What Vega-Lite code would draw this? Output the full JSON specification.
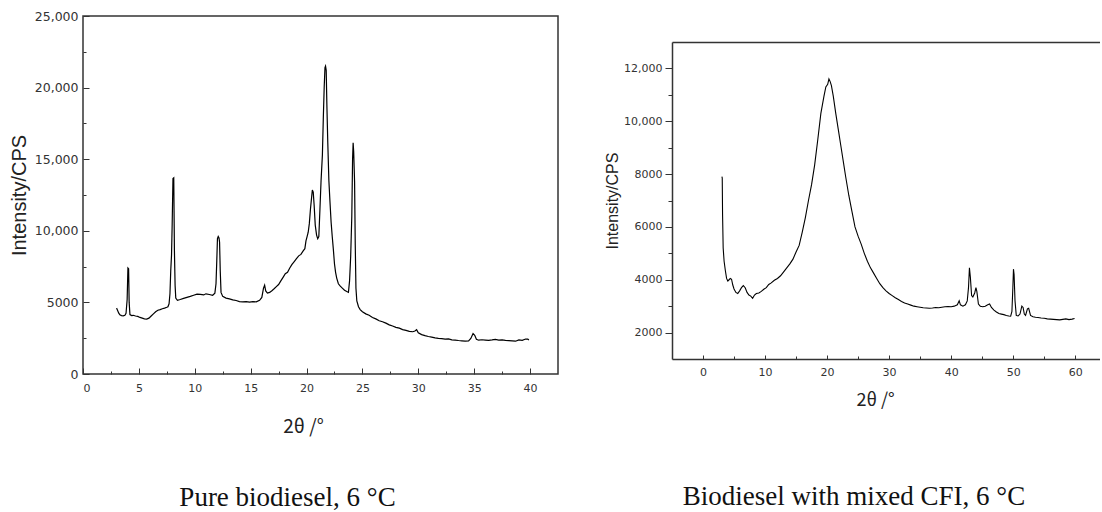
{
  "$schema": "https://vega.github.io/schema/vega-lite/v6.json",
  "padding": {"left": 8, "top": 9, "right": 0, "bottom": 0},
  "background": "white",
  "spacing": 45,
  "config": {
    "view": {"stroke": null},
    "axis": {"grid": false, "labelFont": "DejaVu Sans", "labelColor": "#333", "tickColor": "#333", "domainColor": "#333", "domainWidth": 1.5, "tickWidth": 1, "titleColor": "#222", "titleFontWeight": "normal"}
  },
  "datasets": {
    "pure": [
      {"t":3.0,"i":4600},{"t":3.05,"i":4520},{"t":3.2,"i":4250},{"t":3.3,"i":4130},{"t":3.45,"i":4080},{"t":3.6,"i":4060},{"t":3.75,"i":4100},{"t":3.85,"i":4230},{"t":3.95,"i":5200},{"t":4.02,"i":7400},{"t":4.08,"i":7350},{"t":4.13,"i":5000},{"t":4.2,"i":4150},{"t":4.35,"i":4080},{"t":4.5,"i":4100},{"t":4.7,"i":4050},{"t":4.9,"i":4020},{"t":5.1,"i":3950},{"t":5.3,"i":3900},{"t":5.5,"i":3850},{"t":5.7,"i":3830},{"t":5.9,"i":3900},{"t":6.1,"i":4050},{"t":6.3,"i":4200},{"t":6.5,"i":4350},{"t":6.7,"i":4450},{"t":6.9,"i":4500},{"t":7.1,"i":4560},{"t":7.3,"i":4600},{"t":7.5,"i":4660},{"t":7.6,"i":4700},{"t":7.7,"i":4900},{"t":7.78,"i":5600},{"t":7.85,"i":7200},{"t":7.92,"i":8300},{"t":7.98,"i":10500},{"t":8.05,"i":13650},{"t":8.12,"i":13700},{"t":8.18,"i":8600},{"t":8.24,"i":6200},{"t":8.3,"i":5300},{"t":8.45,"i":5150},{"t":8.7,"i":5200},{"t":9.0,"i":5280},{"t":9.3,"i":5350},{"t":9.6,"i":5420},{"t":9.9,"i":5500},{"t":10.2,"i":5580},{"t":10.5,"i":5560},{"t":10.8,"i":5520},{"t":11.0,"i":5600},{"t":11.3,"i":5550},{"t":11.6,"i":5500},{"t":11.8,"i":5650},{"t":11.9,"i":6300},{"t":11.97,"i":7900},{"t":12.03,"i":9450},{"t":12.1,"i":9600},{"t":12.17,"i":9500},{"t":12.22,"i":9200},{"t":12.28,"i":7200},{"t":12.35,"i":5700},{"t":12.5,"i":5420},{"t":12.8,"i":5300},{"t":13.1,"i":5250},{"t":13.4,"i":5180},{"t":13.7,"i":5130},{"t":14.0,"i":5060},{"t":14.3,"i":5040},{"t":14.6,"i":5060},{"t":14.9,"i":5020},{"t":15.2,"i":5050},{"t":15.5,"i":5040},{"t":15.8,"i":5150},{"t":16.0,"i":5350},{"t":16.15,"i":6000},{"t":16.25,"i":6200},{"t":16.35,"i":5800},{"t":16.5,"i":5650},{"t":16.7,"i":5700},{"t":16.9,"i":5820},{"t":17.1,"i":5950},{"t":17.3,"i":6100},{"t":17.5,"i":6250},{"t":17.7,"i":6500},{"t":17.9,"i":6750},{"t":18.1,"i":7000},{"t":18.3,"i":7100},{"t":18.5,"i":7400},{"t":18.7,"i":7650},{"t":18.9,"i":7850},{"t":19.1,"i":8050},{"t":19.3,"i":8250},{"t":19.5,"i":8350},{"t":19.7,"i":8600},{"t":19.85,"i":8750},{"t":19.95,"i":9300},{"t":20.05,"i":9600},{"t":20.15,"i":9900},{"t":20.25,"i":10500},{"t":20.35,"i":11500},{"t":20.45,"i":12300},{"t":20.52,"i":12850},{"t":20.6,"i":12700},{"t":20.68,"i":11800},{"t":20.78,"i":10400},{"t":20.9,"i":9700},{"t":21.0,"i":9450},{"t":21.1,"i":9600},{"t":21.2,"i":11500},{"t":21.3,"i":13500},{"t":21.42,"i":15300},{"t":21.5,"i":17800},{"t":21.58,"i":20000},{"t":21.65,"i":21400},{"t":21.7,"i":21500},{"t":21.76,"i":21200},{"t":21.82,"i":18800},{"t":21.9,"i":16200},{"t":22.0,"i":13500},{"t":22.1,"i":12000},{"t":22.2,"i":10600},{"t":22.3,"i":9600},{"t":22.4,"i":8700},{"t":22.5,"i":7700},{"t":22.6,"i":7100},{"t":22.7,"i":6700},{"t":22.85,"i":6300},{"t":23.0,"i":6150},{"t":23.2,"i":6000},{"t":23.4,"i":5850},{"t":23.6,"i":5760},{"t":23.75,"i":5700},{"t":23.85,"i":6500},{"t":23.95,"i":8200},{"t":24.05,"i":11000},{"t":24.12,"i":15000},{"t":24.17,"i":16150},{"t":24.22,"i":15500},{"t":24.3,"i":13400},{"t":24.36,"i":9000},{"t":24.42,"i":6000},{"t":24.5,"i":5100},{"t":24.65,"i":4700},{"t":24.8,"i":4500},{"t":25.0,"i":4350},{"t":25.3,"i":4200},{"t":25.6,"i":4100},{"t":25.9,"i":3950},{"t":26.2,"i":3850},{"t":26.5,"i":3720},{"t":26.8,"i":3650},{"t":27.1,"i":3550},{"t":27.4,"i":3430},{"t":27.7,"i":3350},{"t":28.0,"i":3260},{"t":28.3,"i":3200},{"t":28.6,"i":3100},{"t":28.9,"i":3050},{"t":29.2,"i":2980},{"t":29.5,"i":2950},{"t":29.7,"i":3000},{"t":29.85,"i":3100},{"t":30.0,"i":2880},{"t":30.3,"i":2750},{"t":30.6,"i":2680},{"t":30.9,"i":2620},{"t":31.2,"i":2580},{"t":31.5,"i":2520},{"t":31.8,"i":2490},{"t":32.1,"i":2470},{"t":32.4,"i":2430},{"t":32.7,"i":2450},{"t":33.0,"i":2380},{"t":33.3,"i":2370},{"t":33.6,"i":2340},{"t":33.9,"i":2320},{"t":34.2,"i":2300},{"t":34.5,"i":2310},{"t":34.7,"i":2480},{"t":34.9,"i":2820},{"t":35.05,"i":2700},{"t":35.2,"i":2420},{"t":35.4,"i":2360},{"t":35.7,"i":2390},{"t":36.0,"i":2370},{"t":36.3,"i":2350},{"t":36.6,"i":2380},{"t":36.9,"i":2420},{"t":37.2,"i":2360},{"t":37.5,"i":2380},{"t":37.8,"i":2350},{"t":38.1,"i":2330},{"t":38.4,"i":2310},{"t":38.7,"i":2290},{"t":39.0,"i":2380},{"t":39.3,"i":2350},{"t":39.6,"i":2440},{"t":39.8,"i":2430},{"t":39.9,"i":2380}
    ],
    "cfi": [
      {"t":3.05,"i":7900},{"t":3.1,"i":7850},{"t":3.15,"i":6500},{"t":3.25,"i":5200},{"t":3.4,"i":4700},{"t":3.6,"i":4350},{"t":3.8,"i":4050},{"t":4.0,"i":3950},{"t":4.2,"i":4000},{"t":4.4,"i":4050},{"t":4.6,"i":4020},{"t":4.8,"i":3800},{"t":5.0,"i":3650},{"t":5.3,"i":3520},{"t":5.6,"i":3480},{"t":5.9,"i":3580},{"t":6.2,"i":3700},{"t":6.5,"i":3780},{"t":6.8,"i":3700},{"t":7.1,"i":3520},{"t":7.4,"i":3420},{"t":7.7,"i":3380},{"t":8.0,"i":3300},{"t":8.3,"i":3420},{"t":8.6,"i":3480},{"t":9.0,"i":3500},{"t":9.4,"i":3560},{"t":9.8,"i":3640},{"t":10.2,"i":3700},{"t":10.6,"i":3820},{"t":11.0,"i":3880},{"t":11.5,"i":3980},{"t":12.0,"i":4050},{"t":12.5,"i":4150},{"t":13.0,"i":4300},{"t":13.5,"i":4450},{"t":14.0,"i":4600},{"t":14.5,"i":4780},{"t":15.0,"i":5050},{"t":15.5,"i":5300},{"t":16.0,"i":5800},{"t":16.5,"i":6350},{"t":17.0,"i":7000},{"t":17.5,"i":7600},{"t":18.0,"i":8350},{"t":18.5,"i":9300},{"t":19.0,"i":10300},{"t":19.5,"i":10950},{"t":19.8,"i":11300},{"t":20.1,"i":11400},{"t":20.3,"i":11600},{"t":20.5,"i":11500},{"t":20.7,"i":11350},{"t":21.0,"i":10950},{"t":21.4,"i":10300},{"t":21.8,"i":9700},{"t":22.2,"i":9100},{"t":22.6,"i":8500},{"t":23.0,"i":7900},{"t":23.5,"i":7200},{"t":24.0,"i":6600},{"t":24.5,"i":6000},{"t":25.0,"i":5650},{"t":25.5,"i":5350},{"t":26.0,"i":5000},{"t":26.5,"i":4700},{"t":27.0,"i":4450},{"t":27.5,"i":4250},{"t":28.0,"i":4050},{"t":28.5,"i":3850},{"t":29.0,"i":3700},{"t":29.5,"i":3580},{"t":30.0,"i":3480},{"t":30.5,"i":3400},{"t":31.0,"i":3320},{"t":31.5,"i":3250},{"t":32.0,"i":3180},{"t":32.5,"i":3120},{"t":33.0,"i":3080},{"t":33.5,"i":3040},{"t":34.0,"i":3000},{"t":34.5,"i":2980},{"t":35.0,"i":2960},{"t":35.5,"i":2940},{"t":36.0,"i":2930},{"t":36.5,"i":2920},{"t":37.0,"i":2930},{"t":37.5,"i":2950},{"t":38.0,"i":2940},{"t":38.5,"i":2960},{"t":39.0,"i":2980},{"t":39.5,"i":2990},{"t":40.0,"i":2980},{"t":40.5,"i":3000},{"t":41.0,"i":3050},{"t":41.3,"i":3200},{"t":41.5,"i":3050},{"t":41.9,"i":3000},{"t":42.3,"i":3050},{"t":42.6,"i":3200},{"t":42.8,"i":3700},{"t":42.95,"i":4450},{"t":43.1,"i":4100},{"t":43.3,"i":3400},{"t":43.5,"i":3350},{"t":43.8,"i":3500},{"t":44.0,"i":3700},{"t":44.15,"i":3550},{"t":44.4,"i":3080},{"t":44.7,"i":3000},{"t":45.1,"i":2980},{"t":45.5,"i":3000},{"t":45.9,"i":3050},{"t":46.2,"i":3080},{"t":46.5,"i":2950},{"t":46.9,"i":2850},{"t":47.3,"i":2780},{"t":47.7,"i":2720},{"t":48.1,"i":2700},{"t":48.5,"i":2680},{"t":48.9,"i":2650},{"t":49.3,"i":2630},{"t":49.6,"i":2620},{"t":49.8,"i":2800},{"t":49.95,"i":3700},{"t":50.05,"i":4400},{"t":50.15,"i":4200},{"t":50.3,"i":3200},{"t":50.5,"i":2650},{"t":50.8,"i":2630},{"t":51.1,"i":2700},{"t":51.4,"i":3000},{"t":51.6,"i":2950},{"t":51.8,"i":2700},{"t":52.0,"i":2650},{"t":52.3,"i":2900},{"t":52.5,"i":2920},{"t":52.8,"i":2650},{"t":53.2,"i":2600},{"t":53.6,"i":2580},{"t":54.0,"i":2570},{"t":54.5,"i":2550},{"t":55.0,"i":2540},{"t":55.5,"i":2520},{"t":56.0,"i":2510},{"t":56.5,"i":2500},{"t":57.0,"i":2490},{"t":57.5,"i":2480},{"t":58.0,"i":2500},{"t":58.5,"i":2520},{"t":59.0,"i":2490},{"t":59.5,"i":2510},{"t":59.9,"i":2530}
    ]
  },
  "hconcat": [
    {
      "width": 475,
      "height": 358,
      "view": {"stroke": "#333", "strokeWidth": 1.5},
      "title": {"text": "Pure biodiesel, 6 °C", "orient": "bottom", "font": "Liberation Serif", "fontSize": 27, "fontWeight": "normal", "color": "#111", "offset": 49, "dx": -33},
      "data": {"name": "pure"},
      "resolve": {"axis": {"x": "independent", "y": "independent"}},
      "layer": [
        {
          "mark": {"type": "line", "color": "black", "strokeWidth": 1.2},
          "encoding": {
            "x": {"field": "t", "type": "quantitative", "scale": {"domain": [0, 42.5], "nice": false, "zero": false},
              "axis": {"orient": "bottom", "values": [0,5,10,15,20,25,30,35,40], "ticks": false, "domain": false, "labelPadding": 8, "labelFontSize": 11, "title": "2θ /°", "titleFont": "Noto Sans CJK JP", "titleFontSize": 19, "titlePadding": 24, "titleX": 220}},
            "y": {"field": "i", "type": "quantitative", "scale": {"domain": [0, 25000], "nice": false, "zero": false},
              "axis": {"orient": "left", "values": [0,5000,10000,15000,20000,25000], "ticks": false, "domain": false, "labelPadding": 5, "labelFontSize": 12.5, "labelExpr": "datum.value >= 10000 ? format(datum.value, ',') : format(datum.value, 'd')", "title": "Intensity/CPS", "titleFont": "Liberation Sans", "titleFontSize": 20, "titlePadding": 5}}
          }
        },
        {
          "mark": {"type": "line", "opacity": 0},
          "encoding": {
            "x": {"field": "t", "type": "quantitative", "scale": {"domain": [0, 42.5], "nice": false, "zero": false},
              "axis": {"orient": "bottom", "values": [0,5,10,15,20,25,30,35,40], "labels": false, "domain": false, "ticks": true, "tickSize": -6, "title": null}},
            "y": {"field": "i", "type": "quantitative", "scale": {"domain": [0, 25000], "nice": false, "zero": false},
              "axis": {"orient": "left", "values": [0,5000,10000,15000,20000,25000], "labels": false, "domain": false, "ticks": true, "tickSize": -6, "title": null}}
          }
        },
        {
          "mark": {"type": "line", "opacity": 0},
          "encoding": {
            "x": {"field": "t", "type": "quantitative", "scale": {"domain": [0, 42.5], "nice": false, "zero": false},
              "axis": {"orient": "bottom", "values": [2.5,7.5,12.5,17.5,22.5,27.5,32.5,37.5], "labels": false, "domain": false, "ticks": true, "tickSize": -3, "title": null}},
            "y": {"field": "i", "type": "quantitative", "scale": {"domain": [0, 25000], "nice": false, "zero": false},
              "axis": {"orient": "left", "values": [2500,7500,12500,17500,22500], "labels": false, "domain": false, "ticks": true, "tickSize": -3, "title": null}}
          }
        }
      ]
    },
    {
      "spacing": 20,
      "vconcat": [
        {
          "width": 428,
          "height": 6,
          "data": {"values": [{}]},
          "mark": {"type": "point", "opacity": 0},
          "encoding": {}
        },
        {
          "width": 428,
          "height": 317,
          "title": {"text": "Biodiesel with mixed CFI, 6 °C", "orient": "bottom", "font": "Liberation Serif", "fontSize": 27, "fontWeight": "normal", "color": "#111", "offset": 75, "dx": -32},
          "data": {"name": "cfi"},
          "resolve": {"axis": {"x": "independent", "y": "independent"}},
          "layer": [
            {
              "mark": {"type": "line", "color": "black", "strokeWidth": 1.1},
              "encoding": {
                "x": {"field": "t", "type": "quantitative", "scale": {"domain": [-5, 64], "nice": false, "zero": false},
                  "axis": {"orient": "bottom", "values": [0,10,20,30,40,50,60], "ticks": false, "domain": true, "labelPadding": 7, "labelFontSize": 11, "title": "2θ /°", "titleFont": "Noto Sans CJK JP", "titleFontSize": 18, "titlePadding": 14, "titleX": 203}},
                "y": {"field": "i", "type": "quantitative", "scale": {"domain": [1000, 13000], "nice": false, "zero": false},
                  "axis": {"orient": "left", "values": [2000,4000,6000,8000,10000,12000], "ticks": false, "domain": true, "labelPadding": 10, "labelFontSize": 11, "labelExpr": "datum.value >= 10000 ? format(datum.value, ',') : format(datum.value, 'd')", "title": "Intensity/CPS", "titleFont": "Liberation Sans", "titleFontSize": 16, "titlePadding": 3}}
              }
            },
            {
              "mark": {"type": "line", "opacity": 0},
              "encoding": {
                "x": {"field": "t", "type": "quantitative", "scale": {"domain": [-5, 64], "nice": false, "zero": false},
                  "axis": {"orient": "bottom", "values": [0,10,20,30,40,50,60], "labels": false, "domain": false, "ticks": true, "tickSize": -4, "title": null}},
                "y": {"field": "i", "type": "quantitative", "scale": {"domain": [1000, 13000], "nice": false, "zero": false},
                  "axis": {"orient": "left", "values": [2000,4000,6000,8000,10000,12000], "labels": false, "domain": false, "ticks": true, "tickSize": 7, "title": null}}
              }
            },
            {
              "mark": {"type": "line", "opacity": 0},
              "encoding": {
                "x": {"field": "t", "type": "quantitative", "scale": {"domain": [-5, 64], "nice": false, "zero": false},
                  "axis": {"orient": "bottom", "values": [5,15,25,35,45,55], "labels": false, "domain": false, "ticks": true, "tickSize": -3, "title": null}},
                "y": {"field": "i", "type": "quantitative", "scale": {"domain": [1000, 13000], "nice": false, "zero": false},
                  "axis": {"orient": "left", "values": [3000,5000,7000,9000,11000], "labels": false, "domain": false, "ticks": true, "tickSize": 4, "title": null}}
              }
            },
            {
              "mark": {"type": "line", "opacity": 0},
              "encoding": {
                "x": {"field": "t", "type": "quantitative", "scale": {"domain": [-5, 64], "nice": false, "zero": false},
                  "axis": {"orient": "top", "labels": false, "ticks": false, "domain": true, "title": null}},
                "y": {"field": "i", "type": "quantitative", "scale": {"domain": [1000, 13000], "nice": false, "zero": false}, "axis": null}
              }
            }
          ]
        }
      ]
    }
  ]
}
